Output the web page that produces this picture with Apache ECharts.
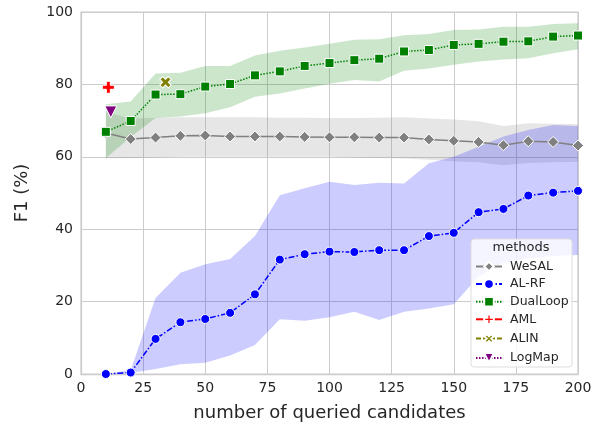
<!DOCTYPE html>
<html>
<head>
<meta charset="utf-8">
<script src="https://cdn.jsdelivr.net/npm/echarts@6/dist/echarts.min.js"></script>
<style>
  html, body { margin: 0; padding: 0; background: #fff; }
  #chart { width: 597px; height: 430px; }
</style>
</head>
<body>
<div id="chart"></div>
<script>
const queried = [10, 20, 30, 40, 50, 60, 70, 80, 90, 100, 110, 120, 130, 140, 150, 160, 170, 180, 190, 200]

const wesal = [66.6, 64.9, 65.3, 65.8, 65.9, 65.6, 65.6, 65.6, 65.5, 65.4, 65.4, 65.3, 65.3, 64.8, 64.4, 64.1, 63.2, 64.3, 64.1, 63.1]
const wesalLow = [59.6, 59.6, 59.8, 60, 60, 60, 60, 60, 60, 60, 59.8, 59.7, 59.5, 59.2, 58.8, 58.5, 57.7, 58.3, 58.5, 58.6]
const wesalHigh = [72.4, 70.6, 70.8, 70.9, 70.9, 70.9, 70.9, 70.8, 70.8, 70.7, 70.7, 70.8, 70.9, 70.6, 70.3, 69.8, 68.5, 69.3, 69.1, 69]

const alrf = [0, 0.4, 9.7, 14.3, 15.2, 16.9, 22, 31.6, 33.1, 33.8, 33.7, 34.2, 34.2, 38.1, 39.0, 44.7, 45.6, 49.3, 50.1, 50.6]
const alrfLow = [0, 0.3, 1.4, 2.7, 3.1, 5.1, 8, 15.1, 14.7, 15.7, 17.2, 14.9, 17.2, 18.1, 19.3, 26.9, 30.7, 31.9, 32.6, 32.9]
const alrfHigh = [0, 1.1, 21, 28, 30.3, 31.8, 38.1, 49.4, 51.3, 53.1, 52.2, 52.8, 52.6, 58.2, 60, 62.8, 65.6, 67.4, 68.8, 68.5]

const dualLoop = [66.9, 69.9, 77.2, 77.3, 79.4, 80.1, 82.5, 83.6, 85.1, 85.9, 86.7, 87.1, 89.1, 89.5, 90.9, 91.2, 91.8, 91.9, 93.2, 93.5]
const dualLoopLow = [59.6, 65.5, 70.7, 71.1, 72, 73.7, 76.6, 77.5, 78.9, 80.2, 81.2, 80.8, 83.8, 84.4, 85.4, 86.3, 86.9, 87.2, 88.6, 89.7]
const dualLoopHigh = [74.5, 75.3, 83, 83.2, 85.1, 85.1, 88, 89.3, 90.2, 91.2, 92.3, 92.5, 93.6, 93.9, 95, 95.2, 95.9, 95.9, 96.7, 96.9]

// single-point baselines
const aml = [[11, 79.2]]
const alin = [[34, 80.6]]
const logMap = [[12, 72.4]]

const xTicks = { min: 0, max: 200, interval: 25 }
const yTicks = { min: 0, max: 100, interval: 20 }

const textColor = '#262626'
const gridColor = '#cccccc'
const font = 'DejaVu Sans'

const plusPath = 'path://M1,0H2V1H3V2H2V3H1V2H0V1H1Z'

function pairs (ys) {
  return queried.map((x, i) => [x, ys[i]])
}

// confidence band as one polygon: upper edge forward, lower edge back
function band (name, low, high, color) {
  return {
    name: name + '-band',
    type: 'custom',
    silent: true,
    z: 1,
    data: queried.map((x, i) => [x, low[i], high[i]]),
    renderItem: (params, api) => {
      if (params.dataIndex !== 0) return
      let top = queried.map((x, i) => api.coord([x, high[i]]))
      let bottom = queried.map((x, i) => api.coord([x, low[i]])).reverse()
      return {
        type: 'polygon',
        shape: { points: top.concat(bottom) },
        style: { fill: color }
      }
    }
  }
}

function mainLine (name, data, color, symbol, size, lineType) {
  return {
    name: name,
    type: 'line',
    data: data,
    symbol: symbol,
    symbolSize: size,
    showAllSymbol: true,
    color: color,
    lineStyle: { color: color, width: 1.5, type: lineType },
    itemStyle: { color: color, borderColor: '#fff', borderWidth: 1 },
    z: 5
  }
}

const chart = echarts.init(document.getElementById('chart'))

const series = [
  band('WeSAL', wesalLow, wesalHigh, 'rgba(128,128,128,0.2)'),
  band('AL-RF', alrfLow, alrfHigh, 'rgba(0,0,255,0.2)'),
  band('DualLoop', dualLoopLow, dualLoopHigh, 'rgba(0,128,0,0.2)'),
  mainLine('WeSAL', pairs(wesal), '#808080', 'diamond', 11, 'solid'),
  mainLine('AL-RF', pairs(alrf), '#0000ff', 'circle', 9, [6, 2, 1.5, 2]),
  mainLine('DualLoop', pairs(dualLoop), '#008000', 'rect', 9, [1.5, 1.5]),
  mainLine('AML', aml, '#ff0000', plusPath, 12, 'solid'),
  Object.assign(mainLine('ALIN', alin, '#808000', plusPath, 12, [5, 2]), { symbolRotate: 45 }),
  Object.assign(mainLine('LogMap', logMap, '#800080', 'triangle', 12, [1.5, 1.5]), { symbolRotate: 180 })
]

chart.setOption({
  animation: false,
  textStyle: { fontFamily: font },
  grid: {
    left: 81,
    right: 19,
    top: 12,
    bottom: 56,
    show: true,
    borderColor: gridColor,
    borderWidth: 1.25
  },
  xAxis: {
    type: 'value',
    min: xTicks.min,
    max: xTicks.max,
    interval: xTicks.interval,
    name: 'number of queried candidates',
    nameLocation: 'middle',
    nameGap: 30,
    nameTextStyle: { color: textColor, fontSize: 18, fontFamily: font },
    axisLine: { show: true, lineStyle: { color: gridColor, width: 1.25 } },
    axisTick: { show: false },
    axisLabel: { color: textColor, fontSize: 14, margin: 7, fontFamily: font },
    splitLine: { show: true, lineStyle: { color: gridColor, width: 1 } }
  },
  yAxis: {
    type: 'value',
    min: yTicks.min,
    max: yTicks.max,
    interval: yTicks.interval,
    name: 'F1 (%)',
    nameLocation: 'middle',
    nameGap: 50,
    nameTextStyle: { color: textColor, fontSize: 18, fontFamily: font },
    axisLine: { show: true, lineStyle: { color: gridColor, width: 1.25 } },
    axisTick: { show: false },
    axisLabel: { color: textColor, fontSize: 14, margin: 8, fontFamily: font },
    splitLine: { show: true, lineStyle: { color: gridColor, width: 1 } }
  },
  legend: {
    data: ['WeSAL', 'AL-RF', 'DualLoop', 'AML', 'ALIN', 'LogMap'],
    orient: 'vertical',
    left: 475,
    top: 260,
    itemWidth: 26,
    itemHeight: 12,
    itemGap: 4.6,
    padding: 0,
    z: 20,
    textStyle: { color: textColor, fontSize: 12.5, fontFamily: font, padding: [0, 0, 0, 3] }
  },
  graphic: [
    {
      type: 'rect',
      z: 10,
      shape: { x: 471, y: 239, width: 101, height: 128, r: 3 },
      style: { fill: 'rgba(255,255,255,0.8)', stroke: '#dddddd', lineWidth: 1 }
    },
    {
      type: 'text',
      z: 11,
      x: 521,
      y: 248,
      style: {
        text: 'methods',
        fill: textColor,
        fontSize: 13,
        fontFamily: font,
        align: 'center',
        verticalAlign: 'middle'
      }
    }
  ],
  series: series
})
</script>
</body>
</html>
